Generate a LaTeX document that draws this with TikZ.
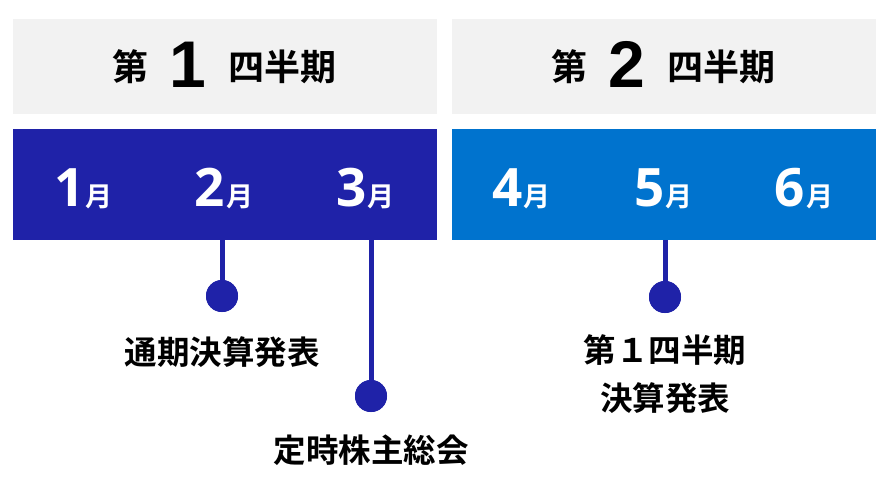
\documentclass[tikz,border=0pt]{standalone}
\usepackage{fontspec}
\setmainfont{Noto Sans CJK JP}[BoldFont={* Bold}]
\newfontfamily\OpenSansFam{Open Sans}
\newfontfamily\LibSansFam{Liberation Sans}
\definecolor{darkblue}{HTML}{1F22A8}
\definecolor{midblue}{HTML}{0073CE}
\definecolor{greybg}{HTML}{F2F2F2}
\newcommand\MonDigit{\OpenSansFam\bfseries\fontsize{53}{53}\selectfont}
\newcommand\MonKanji{\rmfamily\bfseries\fontsize{27}{27}\selectfont}
\newcommand\QDigit{\LibSansFam\bfseries\fontsize{66}{66}\selectfont}
\newcommand\QKanji{\rmfamily\bfseries\fontsize{36}{36}\selectfont}
\tikzset{
  greybox/.style={fill=greybg, draw=none, anchor=north west, inner sep=0pt, minimum width=424pt, minimum height=95pt},
  monthbox/.style={draw=none, anchor=north west, inner sep=0pt, minimum width=424pt, minimum height=111pt},
  monthlabel/.style={text=white, anchor=base, inner sep=0pt},
  qlabel/.style={text=black, anchor=base, inner sep=0pt},
  eventdot/.style={circle, fill=darkblue, draw=none, minimum size=32pt, inner sep=0pt},
  conn/.style={draw=darkblue, line width=5pt},
  eventlabel/.style={text=black, font=\bfseries\fontsize{32.5}{48}\selectfont, align=center, inner sep=0pt}
}
\begin{document}
\begin{tikzpicture}[x=1pt,y=-1pt]
\useasboundingbox (0,0) rectangle (891,487);
\fill[white] (0,0) rectangle (891,487);
% quarter headers
\node[greybox] (q1) at (13,19) {};
\node[greybox] (q2) at (452,19) {};
\node[qlabel] (q1a) at (130,81) {\QKanji 第};
\node[qlabel] (q1b) at (188,88) {\QDigit 1};
\node[qlabel] (q1c) at (282.5,81) {\QKanji 四半期};
\node[qlabel] (q2a) at (569,81) {\QKanji 第};
\node[qlabel] (q2b) at (627,88) {\QDigit 2};
\node[qlabel] (q2c) at (721.5,81) {\QKanji 四半期};
% month bars
\node[monthbox, fill=darkblue] (b1) at (13,129) {};
\node[monthbox, fill=midblue] (b2) at (452,129) {};
\node[monthlabel] (m1) at (83.5,206) {\MonDigit 1\hspace{1pt}\MonKanji 月};
\node[monthlabel] (m2) at (224,206) {\MonDigit 2\hspace{1pt}\MonKanji 月};
\node[monthlabel] (m3) at (365.5,206) {\MonDigit 3\hspace{1pt}\MonKanji 月};
\node[monthlabel] (m4) at (521.5,206) {\MonDigit 4\hspace{1pt}\MonKanji 月};
\node[monthlabel] (m5) at (663.5,206) {\MonDigit 5\hspace{1pt}\MonKanji 月};
\node[monthlabel] (m6) at (804,206) {\MonDigit 6\hspace{1pt}\MonKanji 月};
% events
\node[eventdot] (d1) at (222,296) {};
\node[eventdot] (d2) at (371,396) {};
\node[eventdot] (d3) at (665,297) {};
\draw[conn] (d1 |- b1.south) -- (d1.center);
\draw[conn] (d2 |- b1.south) -- (d2.center);
\draw[conn] (d3 |- b2.south) -- (d3.center);
\node[eventdot] at (d1) {};
\node[eventdot] at (d2) {};
\node[eventdot] at (d3) {};
\node[eventlabel] (e1) at (222,352) {通期決算発表};
\node[eventlabel] (e2) at (371,450) {定時株主総会};
\node[eventlabel] (e3) at (665,374) {第１四半期\\決算発表};
\end{tikzpicture}
\end{document}
